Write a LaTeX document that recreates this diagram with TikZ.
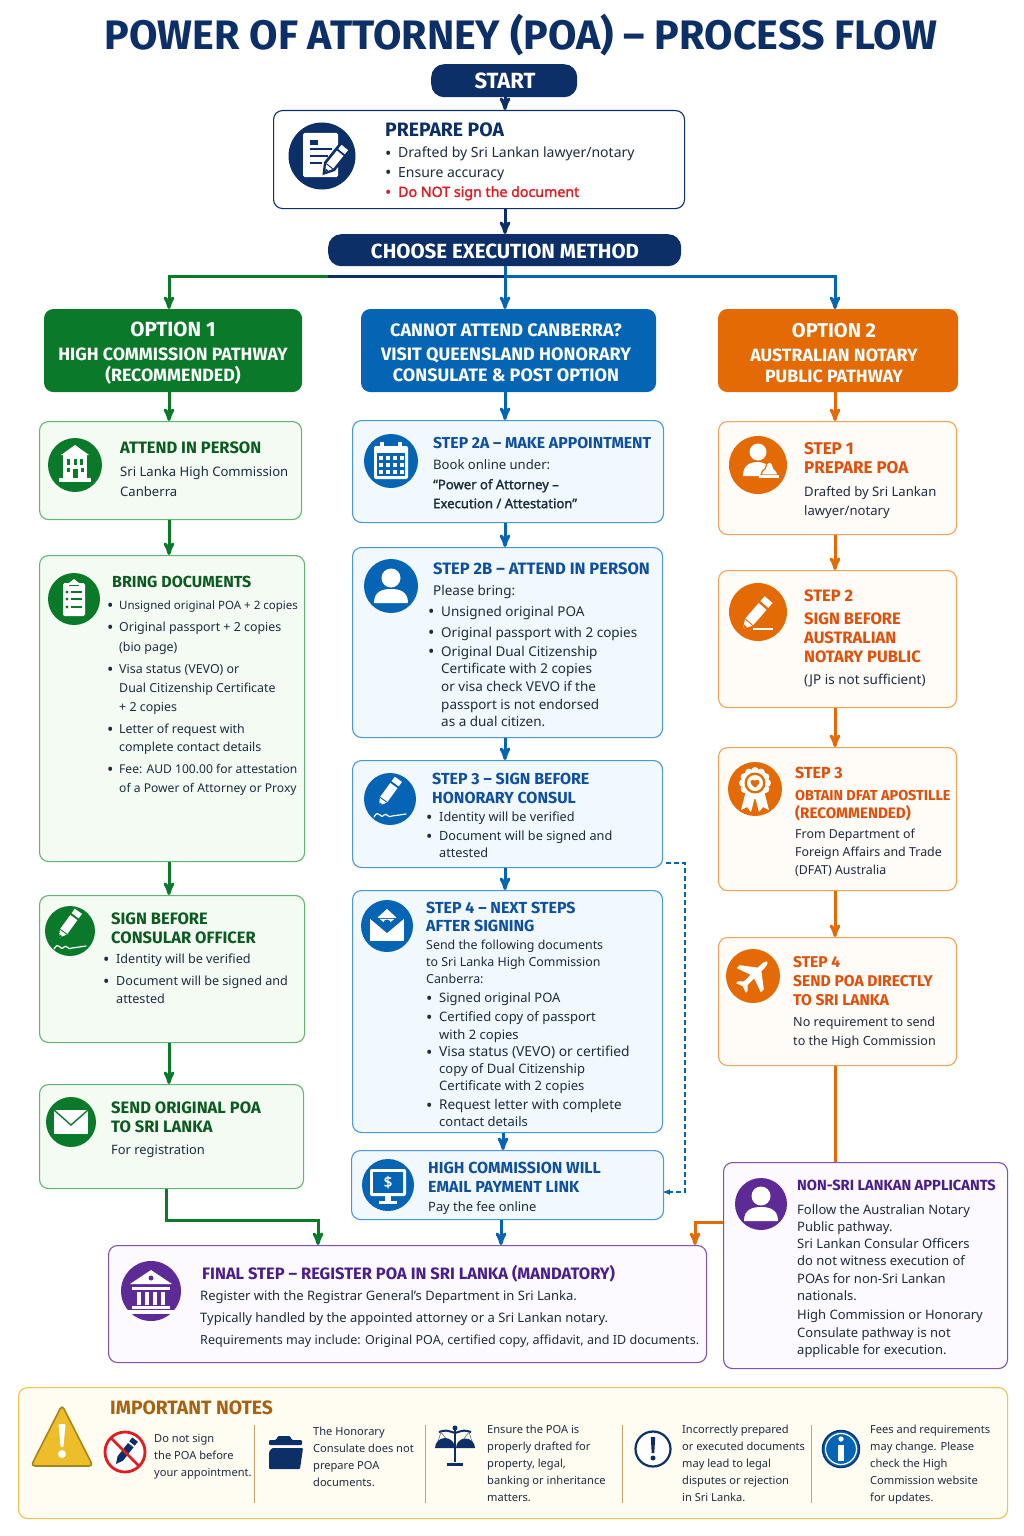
\documentclass[tikz,border=0pt]{standalone}
\usepackage{fontspec}
\setmainfont{Noto Sans}[AutoFakeBold=1.6]
\newfontfamily\headfont{Fira Sans}
\usetikzlibrary{arrows}

\definecolor{navy}{HTML}{0B2F66}
\definecolor{inkc}{HTML}{1C2B3E}
\definecolor{greenc}{HTML}{0A7A2A}
\definecolor{greent}{HTML}{0B5A20}
\definecolor{greenb}{HTML}{62B56F}
\definecolor{greenf}{HTML}{F4FBF3}
\definecolor{bluec}{HTML}{0565B4}
\definecolor{bluet}{HTML}{0F4FA0}
\definecolor{blueb}{HTML}{4A97D8}
\definecolor{bluef}{HTML}{F1F8FE}
\definecolor{orangec}{HTML}{E36A05}
\definecolor{oranget}{HTML}{E0500B}
\definecolor{orangeb}{HTML}{F0A35A}
\definecolor{orangef}{HTML}{FFFBF6}
\definecolor{purplec}{HTML}{5E2A96}
\definecolor{purplet}{HTML}{4A1D8C}
\definecolor{purpleb}{HTML}{8050B5}
\definecolor{purplef}{HTML}{FCFAFF}
\definecolor{noteb}{HTML}{EFC34E}
\definecolor{notef}{HTML}{FFFCF1}
\definecolor{brownc}{HTML}{A8610F}
\definecolor{signy}{HTML}{EDBE2A}
\definecolor{signr}{HTML}{E01B22}

\newcommand{\bul}{\raisebox{-1.5pt}{\fontsize{17}{17}\selectfont\textbullet}}
\newcommand{\bl}[1]{\makebox[13pt][l]{\bul}#1}
\newcommand{\blc}[1]{\hspace*{13pt}#1}
\newcommand{\bls}[1]{\makebox[12pt][l]{\bul}#1}

\tikzset{
  anybox/.style={rectangle,rounded corners=9pt,inner sep=0pt,anchor=north west,line width=1.1pt},
  greenbox/.style={anybox,draw=greenb,fill=greenf},
  bluebox/.style={anybox,draw=blueb,fill=bluef},
  orangebox/.style={anybox,draw=orangeb,fill=orangef},
  purplebox/.style={anybox,draw=purpleb,fill=purplef},
  headbox/.style={anybox,fill=#1,draw=#1},
  pill/.style={rectangle,rounded corners=13pt,fill=navy,text=white,inner sep=0pt,anchor=north west},
  hdline/.style={text=white,inner sep=0pt,font=\headfont\bfseries\fontsize{17.8}{23}\selectfont,align=center},
  title/.style={inner sep=0pt,anchor=north west,align=left,yshift=6pt,text=#1,
    font=\headfont\bfseries\fontsize{16.5}{19}\selectfont},
  titles/.style={title=#1,font=\headfont\bfseries\fontsize{16}{19}\selectfont},
  body/.style={inner sep=0pt,anchor=north west,align=left,yshift=5pt,text=inkc,
    font=\fontsize{13.1}{18}\selectfont},
  small/.style={inner sep=0pt,anchor=north west,align=left,yshift=4pt,text=inkc,
    font=\fontsize{11.1}{17}\selectfont},
  icon/.style={circle,inner sep=0pt,fill=#1},
  flow/.style={->,>=stealth',line width=3pt,draw=#1},
  rule/.style={draw=brownc!60,line width=.8pt},
  % icons, drawn around the centre of their circle
  pics/quill/.style={code={
    \fill[white] (0,0) -- (-4,-7) -- (-4,-23) -- (4,-23) -- (4,-7) -- cycle;
    \fill[white] (-4,-25) rectangle (4,-30);
    \fill[#1] (0,0) -- (-1.6,-3) -- (1.6,-3) -- cycle;
    \draw[#1,line width=.9pt] (-4,-7) -- (4,-7);}},
  pics/docpen/.style={code={
    \fill[white,rounded corners=1.5pt] (-19,-23) rectangle (16,21);
    \fill[#1] (-12,-16) rectangle (-4,-11);
    \foreach \yy/\xx in {-7/10,0/6,7/0} \fill[#1] (-12,\yy-1) rectangle (\xx,\yy+1);
    \begin{scope}[shift={(3,16)},rotate=-39]
      \fill[#1] (0,4) -- (-7,-7) -- (-7,-37) -- (7,-37) -- (7,-7) -- cycle;
    \end{scope}
    \pic[rotate=-39,scale=1.05] at (3,16) {quill=#1};}},
  pics/building/.style={code={
    \fill[white] (-14,-10) -- (0,-20) -- (14,-10) -- cycle;
    \fill[white] (-12,-10) rectangle (12,13);
    \fill[white] (-16,13) rectangle (16,17);
    \foreach \xx in {-8,-1.5,5} \fill[#1] (\xx,-6) rectangle (\xx+3,0);
    \foreach \xx in {-8.5,5.5} \fill[#1] (\xx,3) rectangle (\xx+3,7);
    \fill[#1] (-2.5,4) rectangle (2.5,13);}},
  pics/clipboard/.style={code={
    \fill[white,rounded corners=1.5pt] (-11,-16) rectangle (11,17);
    \fill[white] (-5,-16) -- (0,-20) -- (5,-16) -- cycle;
    \draw[#1,line width=.8pt] (-5,-14) -- (5,-14);
    \foreach \yy in {-7,0,8} {
      \fill[#1] (-7,\yy) circle (1.6);
      \fill[#1] (-3,\yy-.9) rectangle (8,\yy+.9);}}},
  pics/penline/.style={code={
    \pic[rotate=-36,scale=1.1] at (-11,7) {quill=#1};
    \draw[white,line width=1.2pt,line cap=round] (-16,18) .. controls (-11,9) and (-10,21) .. (-6,16)
      .. controls (-3,13) and (-2,20) .. (2,17) -- (16,15);}},
  pics/penplain/.style={code={
    \pic[rotate=-41,scale=1.3] at (-15,17) {quill=#1};
    \draw[white,line width=1.3pt] (-5,17) -- (15,17);}},
  pics/envelope/.style={code={
    \fill[white] (-17,-12) rectangle (17,12);
    \draw[#1,line width=1.4pt] (-17,-12) -- (0,3) -- (17,-12);}},
  pics/person/.style={code={
    \fill[white] (0,-8) circle (9.5);
    \fill[white] (-17,17) .. controls (-17,5) and (-8,3) .. (0,3) .. controls (8,3) and (17,5) .. (17,17) -- cycle;}},
  pics/personseal/.style={code={
    \fill[white] (0,-13) circle (8.5);
    \fill[white] (-15,11) .. controls (-15,0) and (-8,-3) .. (0,-3) .. controls (4,-3) and (9,-1) .. (11,2) -- (11,11) -- cycle;
    \draw[#1,line width=1.2pt,fill=white] (3,10) .. controls (4,4) and (8,5) .. (8,1) .. controls (8,-4) and (15,-4) .. (15,1)
      .. controls (15,5) and (19,4) .. (20,10) -- cycle;
    \fill[white] (1,10) rectangle (21,13);}},
  pics/calendar/.style={code={
    \fill[white,rounded corners=2pt] (-17,-15) rectangle (17,18);
    \fill[#1] (-14,-8) rectangle (14,15);
    \fill[white] (-11,-19) rectangle (-7,-12);
    \fill[white] (7,-19) rectangle (11,-12);
    \foreach \xx in {-12,-5,2,9} \foreach \yy in {-5,2,9}
      \fill[white] (\xx,\yy) rectangle (\xx+4,\yy+4);}},
  pics/mailhouse/.style={code={
    \fill[white] (-17,-7) rectangle (17,15);
    \fill[white] (-10,-8) -- (0,-17) -- (10,-8) -- cycle;
    \fill[#1] (-19,-9) -- (0,7) -- (19,-9) -- (10,-9) -- (0,-1) -- (-10,-9) -- cycle;
    \fill[#1] (0,-3) circle (3.5);}},
  pics/monitor/.style={code={
    \fill[white,rounded corners=2pt] (-18,-16) rectangle (18,11);
    \fill[#1] (-15,-13) rectangle (15,8);
    \fill[white] (-3,11) rectangle (3,17);
    \fill[white] (-9,16) rectangle (9,19);
    \node[text=white,inner sep=0pt,font=\bfseries\fontsize{15}{15}\selectfont] (dollar) at (0,-3) {\$};}},
  pics/rosette/.style={code={
    \fill[white] (-9,2) -- (-14,21) -- (-8,18) -- (-4,23) -- (0,8) -- (4,23) -- (8,18) -- (14,21) -- (9,2) -- cycle;
    \foreach \a in {0,30,...,330} \fill[white] ([shift={(0,-6)}]\a:12) circle (4);
    \fill[#1] (0,-6) circle (10.5);
    \fill[white] (0,-6) circle (8);
    \fill[#1] (0,-1.5) .. controls (-7,-6) and (-5,-11) .. (0,-8.5) .. controls (5,-11) and (7,-6) .. (0,-1.5) -- cycle;}},
  pics/plane/.style={code={
    \begin{scope}[rotate=-45,scale=.85]
    \fill[white] (0,-24) .. controls (3,-22) and (3,-18) .. (3,-11) -- (20,2) -- (20,7) -- (3,1) -- (3,12)
      -- (8,17) -- (8,20) -- (0,17) -- (-8,20) -- (-8,17) -- (-3,12) -- (-3,1) -- (-20,7) -- (-20,2) -- (-3,-11)
      .. controls (-3,-18) and (-3,-22) .. (0,-24) -- cycle;
    \end{scope}}},
  pics/bank/.style={code={
    \fill[white] (-21,-7) -- (0,-21) -- (21,-7) -- cycle;
    \fill[#1] (0,-13) circle (2.5);
    \fill[white] (-19,-4) rectangle (19,-1);
    \foreach \xx in {-15,-7,1,9} \fill[white] (\xx+1,1) rectangle (\xx+5,14);
    \fill[white] (-19,15) rectangle (19,18);
    \fill[white] (-23,19) rectangle (23,23);}},
}

\begin{document}
\begin{tikzpicture}[x=1pt,y=-1pt]
  \useasboundingbox (0,0) rectangle (1024,1536);

  \node[inner sep=0pt,text=navy,font=\headfont\bfseries\fontsize{41.2}{41}\selectfont] (maintitle) at (521,35)
    {POWER OF ATTORNEY (POA) – PROCESS FLOW};

  % top of the flow
  \node[pill,minimum width=146pt,minimum height=33pt] (start) at (431,64) {};
  \node[hdline,font=\headfont\bfseries\fontsize{22}{22}\selectfont] (startt) at (505,81) {START};
  \node[anybox,draw=navy,fill=white,minimum width=411pt,minimum height=98pt] (prep) at (273,110) {};
  \node[icon=navy,minimum size=67pt] (prepi) at (322,156) {};
  \pic at (prepi) {docpen=navy};
  \node[title=navy,font=\headfont\bfseries\fontsize{19.4}{19}\selectfont] (prept) at (385,129) {PREPARE POA};
  \node[body,font=\fontsize{14}{19.5}\selectfont] (prepb) at (385,152) {\bl{Drafted by Sri Lankan lawyer/notary}\\
    \bl{Ensure accuracy}\\
    \textcolor{signr}{\bl{\bfseries\fontsize{14.2}{19.5}\selectfont Do NOT sign the document}}};
  \node[pill,minimum width=353pt,minimum height=32pt] (choose) at (328,234) {};
  \node[hdline,font=\headfont\bfseries\fontsize{20.5}{21}\selectfont] (chooset) at (505,251) {CHOOSE EXECUTION METHOD};

  % the three heads
  \node[headbox=greenc,minimum width=257pt,minimum height=82pt] (opt1) at (44,309) {};
  \node[hdline] (opt1t) at (173,353) {{\fontsize{20.5}{23}\selectfont OPTION 1}\\[1pt]HIGH COMMISSION PATHWAY\\[-2pt](RECOMMENDED)};
  \node[headbox=bluec,minimum width=294pt,minimum height=82pt] (optm) at (361,309) {};
  \node[hdline,font=\headfont\bfseries\fontsize{18}{23}\selectfont] (optmt) at (506,353) {CANNOT ATTEND CANBERRA?\\[1pt]VISIT QUEENSLAND HONORARY\\[-2pt]CONSULATE \& POST OPTION};
  \node[headbox=orangec,minimum width=239pt,minimum height=82pt] (opt2) at (718,309) {};
  \node[hdline] (opt2t) at (834,353) {{\fontsize{20}{23}\selectfont OPTION 2}\\[1pt]AUSTRALIAN NOTARY\\[-2pt]PUBLIC PATHWAY};

  % left column
  \node[greenbox,minimum width=262pt,minimum height=98pt] (a1) at (39,421) {};
  \node[icon=greenc,minimum size=54pt] (a1i) at (75,465) {};
  \pic at (a1i) {building=greenc};
  \node[title=greent] (a1t) at (120,448) {ATTEND IN PERSON};
  \node[body] (a1b) at (120,471) {Sri Lanka High Commission\\[2pt]Canberra};

  \node[greenbox,minimum width=265pt,minimum height=306pt] (a2) at (39,555) {};
  \node[icon=greenc,minimum size=52pt] (a2i) at (74,599) {};
  \pic at (a2i) {clipboard=greenc};
  \node[titles=greent] (a2t) at (112,582) {BRING DOCUMENTS};
  \node[body,font=\fontsize{12.4}{19}\selectfont] (a2b) at (107,606) {\bls{{\fontsize{11.5}{19}\selectfont Unsigned original POA + 2 copies}}\\[3pt]
    \bls{Original passport + 2 copies}\\[1pt]
    \hspace*{12pt}(bio page)\\[3pt]
    \bls{Visa status (VEVO) or}\\
    \hspace*{12pt}Dual Citizenship Certificate\\
    \hspace*{12pt}+ 2 copies\\[3pt]
    \bls{Letter of request with}\\[-1pt]
    \hspace*{12pt}complete contact details\\[3pt]
    \bls{{\fontsize{12.1}{19}\selectfont Fee: AUD 100.00 for attestation}}\\
    \hspace*{12pt}{\fontsize{12.1}{19}\selectfont of a Power of Attorney or Proxy}};

  \node[greenbox,minimum width=265pt,minimum height=147pt] (a3) at (39,895) {};
  \node[icon=greenc,minimum size=50pt] (a3i) at (70,931) {};
  \pic at (a3i) {penline=greenc};
  \node[title=greent] (a3t) at (111,919) {SIGN BEFORE\\CONSULAR OFFICER};
  \node[body,font=\fontsize{12.6}{18}\selectfont] (a3b) at (103,959) {\bl{Identity will be verified}\\[4pt]\bl{Document will be signed and}\\\blc{attested}};

  \node[greenbox,minimum width=264pt,minimum height=104pt] (a4) at (39,1084) {};
  \node[icon=greenc,minimum size=50pt] (a4i) at (71,1122) {};
  \pic at (a4i) {envelope=greenc};
  \node[title=greent] (a4t) at (111,1108) {SEND ORIGINAL POA\\TO SRI LANKA};
  \node[body,font=\fontsize{12.9}{18}\selectfont] (a4b) at (111,1150) {For registration};

  % middle column
  \node[bluebox,minimum width=311pt,minimum height=102pt] (b1) at (352,420) {};
  \node[icon=bluec,minimum size=54pt] (b1i) at (391,461) {};
  \pic at (b1i) {calendar=bluec};
  \node[title=bluet,font=\headfont\bfseries\fontsize{15.8}{19}\selectfont] (b1t) at (433,443) {STEP 2A – MAKE APPOINTMENT};
  \node[body] (b1b) at (433,464) {Book online under:\\[2pt]\textbf{“Power of Attorney –}\\[1pt]\textbf{Execution / Attestation”}};

  \node[bluebox,minimum width=310pt,minimum height=190pt] (b2) at (352,547) {};
  \node[icon=bluec,minimum size=54pt] (b2i) at (391,586) {};
  \pic at (b2i) {person=bluec};
  \node[title=bluet] (b2t) at (433,569) {STEP 2B – ATTEND IN PERSON};
  \node[body,font=\fontsize{13.5}{18}\selectfont] (b2b) at (428,590) {\hspace*{5pt}Please bring:\\[3pt]\bl{Unsigned original POA}\\[3pt]
    \bl{Original passport with 2 copies}\\[1pt]
    \bl{Original Dual Citizenship}\\[-1pt]
    \blc{Certificate with 2 copies}\\
    \blc{or visa check VEVO if the}\\
    \blc{passport is not endorsed}\\[-1pt]
    \blc{as a dual citizen.}};

  \node[bluebox,minimum width=310pt,minimum height=107pt] (b3) at (352,760) {};
  \node[icon=bluec,minimum size=52pt] (b3i) at (390,799) {};
  \pic at (b3i) {penline=bluec};
  \node[titles=bluet] (b3t) at (432,779) {STEP 3 – SIGN BEFORE\\HONORARY CONSUL};
  \node[body,font=\fontsize{12.7}{18}\selectfont] (b3b) at (426,817) {\bl{Identity will be verified}\\[1pt]\bl{Document will be signed and}\\[-1pt]\blc{attested}};

  \node[bluebox,minimum width=310pt,minimum height=242pt] (b4) at (352,890) {};
  \node[icon=bluec,minimum size=52pt] (b4i) at (387,926) {};
  \pic at (b4i) {mailhouse=bluec};
  \node[titles=bluet] (b4t) at (426,908) {STEP 4 – NEXT STEPS\\[-1pt]AFTER SIGNING};
  \node[body,font=\fontsize{13}{17}\selectfont] (b4b) at (426,945) {{\fontsize{12.4}{17}\selectfont Send the following documents}\\
    {\fontsize{12.4}{17}\selectfont to Sri Lanka High Commission}\\
    {\fontsize{12.4}{17}\selectfont Canberra:}\\[2pt]
    \bl{Signed original POA}\\[2pt]
    \bl{Certified copy of passport}\\[1pt]
    \blc{with 2 copies}\\
    \bl{{\fontsize{13.8}{17}\selectfont Visa status (VEVO) or certified}}\\
    \blc{copy of Dual Citizenship}\\
    \blc{Certificate with 2 copies}\\[2pt]
    \bl{{\fontsize{13.5}{17}\selectfont Request letter with complete}}\\
    \blc{contact details}};

  \node[bluebox,minimum width=312pt,minimum height=69pt] (b5) at (351,1150) {};
  \node[icon=bluec,minimum size=52pt] (b5i) at (388,1185) {};
  \pic at (b5i) {monitor=bluec};
  \node[titles=bluet] (b5t) at (428,1168) {HIGH COMMISSION WILL\\EMAIL PAYMENT LINK};
  \node[body,font=\fontsize{12.9}{18}\selectfont] (b5b) at (428,1206) {Pay the fee online};

  % right column
  \node[orangebox,minimum width=238pt,minimum height=113pt] (c1) at (718,421) {};
  \node[icon=orangec,minimum size=58pt] (c1i) at (758,465) {};
  \pic at (c1i) {personseal=orangec};
  \node[title=oranget,font=\headfont\bfseries\fontsize{17}{19}\selectfont] (c1t) at (804,448) {STEP 1\\PREPARE POA};
  \node[body] (c1b) at (804,491) {Drafted by Sri Lankan\\[1pt]lawyer/notary};

  \node[orangebox,minimum width=238pt,minimum height=137pt] (c2) at (718,570) {};
  \node[icon=orangec,minimum size=58pt] (c2i) at (758,612) {};
  \pic at (c2i) {penplain=orangec};
  \node[title=oranget] (c2t) at (804,596) {STEP 2\\[4pt]SIGN BEFORE\\AUSTRALIAN\\NOTARY PUBLIC};
  \node[body,font=\fontsize{13.5}{18}\selectfont] (c2b) at (804,679) {(JP is not sufficient)};

  \node[orangebox,minimum width=238pt,minimum height=143pt] (c3) at (718,747) {};
  \node[icon=orangec,minimum size=54pt] (c3i) at (755,789) {};
  \pic at (c3i) {rosette=orangec};
  \node[title=oranget,font=\headfont\bfseries\fontsize{14.4}{18}\selectfont] (c3t) at (795,773) {{\fontsize{16}{18}\selectfont STEP 3}\\[4pt]OBTAIN DFAT APOSTILLE\\{\fontsize{15.2}{18}\selectfont (RECOMMENDED)}};
  \node[body,font=\fontsize{12.4}{18}\selectfont] (c3b) at (795,834) {From Department of\\Foreign Affairs and Trade\\(DFAT) Australia};

  \node[orangebox,minimum width=238pt,minimum height=128pt] (c4) at (718,937) {};
  \node[icon=orangec,minimum size=54pt] (c4i) at (753,976) {};
  \pic at (c4i) {plane=orangec};
  \node[title=oranget,font=\headfont\bfseries\fontsize{15.6}{19}\selectfont] (c4t) at (793,962) {STEP 4\\SEND POA DIRECTLY\\TO SRI LANKA};
  \node[body,font=\fontsize{12.6}{18}\selectfont] (c4b) at (793,1022) {No requirement to send\\[1pt]to the High Commission};

  \node[purplebox,minimum width=284pt,minimum height=206pt] (nonsri) at (723,1162) {};
  \node[icon=purplec,minimum size=52pt] (nonsrii) at (761,1204) {};
  \pic at (nonsrii) {person=purplec};
  \node[title=purplet,font=\headfont\bfseries\fontsize{14.7}{18}\selectfont] (nonsrit) at (797,1186) {NON-SRI LANKAN APPLICANTS};
  \node[body,font=\fontsize{13}{17.3}\selectfont] (nonsrib) at (797,1209) {Follow the Australian Notary\\Public pathway.\\
    Sri Lankan Consular Officers\\do not witness execution of\\POAs for non-Sri Lankan\\nationals.\\[2pt]
    High Commission or Honorary\\Consulate pathway is not\\applicable for execution.};

  % last step
  \node[purplebox,minimum width=598pt,minimum height=117pt] (final) at (108,1245) {};
  \node[icon=purplec,minimum size=60pt] (finali) at (151,1291) {};
  \pic at (finali) {bank=purplec};
  \node[title=purplet] (finalt) at (202,1271) {FINAL STEP – REGISTER POA IN SRI LANKA (MANDATORY)};
  \node[body,font=\fontsize{13}{22}\selectfont] (finalb) at (200,1295) {Register with the Registrar General’s Department in Sri Lanka.\\
    Typically handled by the appointed attorney or a Sri Lankan notary.\\
    {\fontsize{12.55}{22}\selectfont Requirements may include: Original POA, certified copy, affidavit, and ID documents.}};

  % connectors
  \coordinate (gx) at (169,0);
  \coordinate (bx) at (505,0);
  \coordinate (ox) at (835,0);
  \draw[flow=navy] (start.south -| bx) -- (prep.north -| bx);
  \draw[flow=navy] (prep.south -| bx) -- (choose.north -| bx);
  \coordinate (busl) at (328,276);
  \coordinate (busm) at (505,276);
  \draw[flow=greenc] (busl) -| (opt1.north -| gx);
  \draw[navy,line width=3pt] (busl) -- (busm);
  \draw[flow=bluec] (busm) -| (opt2.north -| ox);
  \draw[flow=bluec] (choose.south -| bx) -- (optm.north -| bx);

  \draw[flow=greenc] (opt1.south -| gx) -- (a1.north -| gx);
  \draw[flow=bluec] (optm.south -| bx) -- (b1.north -| bx);
  \draw[flow=orangec] (opt2.south -| ox) -- (c1.north -| ox);

  \draw[flow=greenc] (a1.south -| gx) -- (a2.north -| gx);
  \draw[flow=greenc] (a2.south -| gx) -- (a3.north -| gx);
  \draw[flow=greenc] (a3.south -| gx) -- (a4.north -| gx);
  \coordinate (gbend) at (318,1220);
  \draw[flow=greenc] (a4.south -| 166,0) |- (gbend) -- (final.north -| gbend);

  \draw[flow=bluec] (b1.south -| bx) -- (b2.north -| bx);
  \draw[flow=bluec] (b2.south -| bx) -- (b3.north -| bx);
  \draw[flow=bluec] (b3.south -| bx) -- (b4.north -| bx);
  \draw[flow=bluec] (b4.south -| 503,0) -- (b5.north -| 503,0);
  \draw[flow=bluec] (b5.south -| 501,0) -- (final.north -| 501,0);

  \draw[flow=orangec] (c1.south -| ox) -- (c2.north -| ox);
  \draw[flow=orangec] (c2.south -| ox) -- (c3.north -| ox);
  \draw[flow=orangec] (c3.south -| ox) -- (c4.north -| ox);
  \draw[orangec,line width=3pt] (c4.south -| ox) -- (nonsri.north -| ox);
  \coordinate (obend) at (695,1222);
  \draw[flow=orangec] (nonsri.west |- obend) -- (obend) -- (final.north -| obend);

  \coordinate (dasha) at (666,863);
  \coordinate (dashb) at (685,863);
  \coordinate (dashc) at (685,1192);
  \coordinate (dashd) at (664,1192);
  \draw[->,>=stealth',bluec,line width=1.2pt,dash pattern=on 5pt off 3pt] (dasha) -- (dashb) -- (dashc) -- (dashd);

  % notes band
  \node[anybox,draw=noteb,fill=notef,minimum width=989pt,minimum height=131pt] (notes) at (18,1387) {};
  \node[inner sep=0pt,anchor=west,text=brownc,font=\headfont\bfseries\fontsize{19.3}{20}\selectfont] (notest) at (110,1408) {IMPORTANT NOTES};
  \draw[fill=signy,draw=signy!70!black,line width=1.6pt,line join=round,rounded corners=4pt]
    (62,1405) -- (93,1466) -- (31,1466) -- cycle;
  \fill[white,rounded corners=1pt] (58.5,1424) -- (65.5,1424) -- (63.5,1447) -- (60.5,1447) -- cycle;
  \fill[white] (62,1454) circle (4);

  \draw[signr,fill=white,line width=2.8pt] (125,1452) circle (20);
  \begin{scope}[shift={(116,1464)},rotate=-38]
    \fill[navy] (0,0) -- (-3.5,-7) -- (-3.5,-24) -- (3.5,-24) -- (3.5,-7) -- cycle;
    \fill[navy] (-3.5,-26) rectangle (3.5,-31);
  \end{scope}
  \draw[signr,line width=2.8pt] (111,1438) -- (139,1466);
  \node[small] (n1) at (154,1438) {Do not sign\\the POA before\\your appointment.};
  \draw[rule] (254,1425) -- (254,1503);

  \fill[navy,rounded corners=1pt] (269,1445) -- (269,1440) -- (276,1440) -- (278,1436) -- (290,1436) -- (292,1440) -- (302,1440)
    -- (302,1445) -- cycle;
  \fill[navy,rounded corners=1pt] (272,1448) -- (303,1448) -- (300,1469) -- (269,1469) -- (269,1452) -- cycle;
  \node[small] (n2) at (313,1431) {The Honorary\\Consulate does not\\prepare POA\\documents.};
  \draw[rule] (425,1425) -- (425,1503);

  \fill[navy] (455,1428) circle (2.5);
  \draw[navy,line width=2.4pt] (455,1428) -- (455,1462);
  \draw[navy,line width=2pt] (439,1432) .. controls (446,1430) .. (455,1433) .. controls (464,1430) .. (471,1432);
  \draw[navy,line width=3pt] (447,1464) -- (463,1464);
  \draw[navy!60,line width=.7pt] (441,1432) -- (436,1448) (441,1432) -- (453,1448) (469,1432) -- (457,1448) (469,1432) -- (474,1448);
  \fill[navy] (435,1448) arc[start angle=180,end angle=360,radius=10] -- cycle;
  \fill[navy] (456,1448) arc[start angle=180,end angle=360,radius=9.5] -- cycle;
  \node[small] (n3) at (487,1429) {Ensure the POA is\\properly drafted for\\property, legal,\\banking or inheritance\\matters.};
  \draw[rule] (622,1425) -- (622,1503);

  \draw[navy,fill=white,line width=2.2pt] (653,1449) circle (17.5);
  \fill[navy] (650.8,1437) -- (655.2,1437) -- (654.3,1453) -- (651.7,1453) -- cycle;
  \fill[navy] (653,1458) circle (2.5);
  \node[small] (n4) at (682,1429) {Incorrectly prepared\\or executed documents\\may lead to legal\\disputes or rejection\\in Sri Lanka.};
  \draw[rule] (811,1425) -- (811,1503);

  \draw[navy,fill=bluec,line width=1.4pt] (841,1449) circle (18.5);
  \draw[white,line width=1.2pt] (841,1449) circle (15.5);
  \fill[white] (841,1439) circle (2.6);
  \fill[white] (838,1445) rectangle (844,1461);
  \node[small] (n5) at (870,1429) {Fees and requirements\\may change. Please\\check the High\\Commission website\\for updates.};
\end{tikzpicture}
\end{document}
